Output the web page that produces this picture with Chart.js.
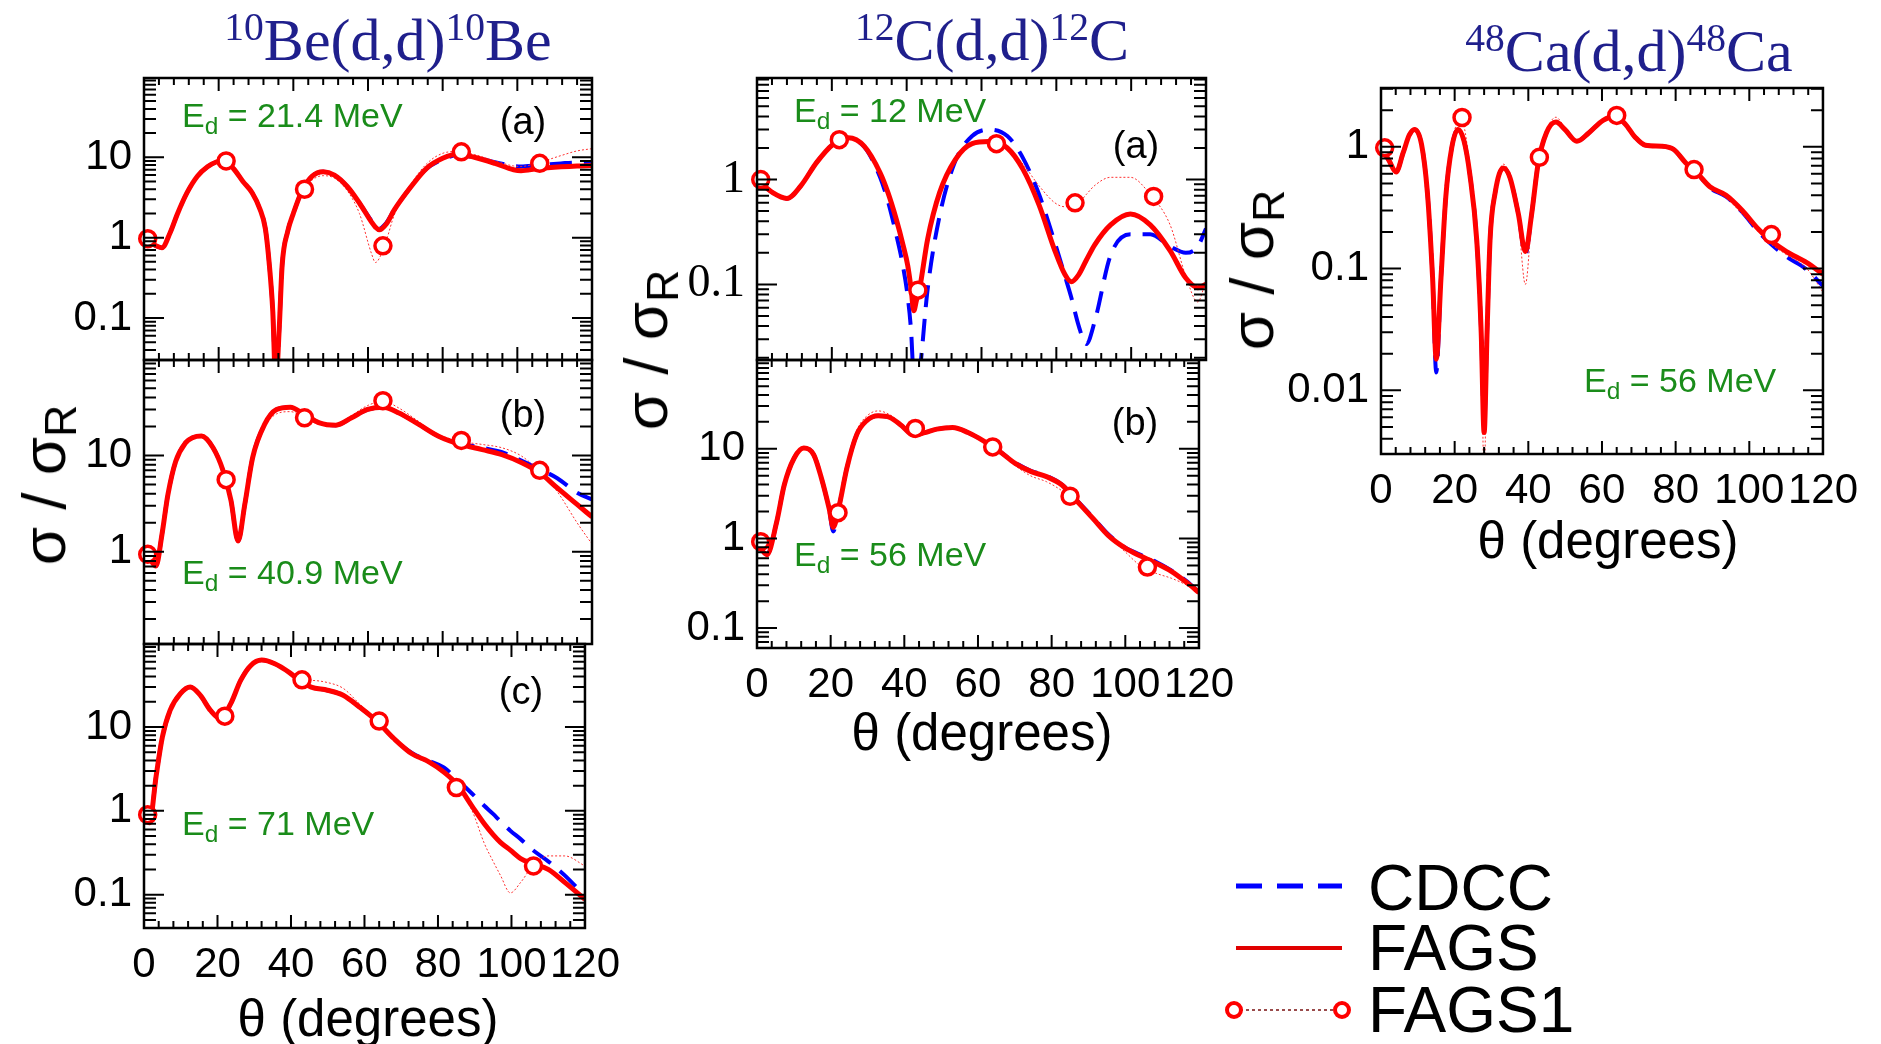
<!DOCTYPE html>
<html>
<head>
<meta charset="utf-8">
<script src="https://cdn.jsdelivr.net/npm/chart.js@4.4.1/dist/chart.umd.min.js"></script>
<style>
  html, body { margin: 0; padding: 0; background: #fff; }
  body { width: 1881px; height: 1044px; position: relative; overflow: hidden; font-family: "Liberation Sans", Arial, sans-serif; }
  canvas { position: absolute; }
  .t { position: absolute; white-space: nowrap; line-height: 1; transform: translate(-50%, -50%); z-index: 2; }
  .title { font-family: "Liberation Serif", serif; font-size: 60px; color: #1f1f8c; }
  .title sup { font-size: 0.66em; vertical-align: 0.5em; line-height: 0; }
  .ed { font-size: 34px; color: #1a8c1a; transform: translate(0, -50%); }
  .ed sub { font-size: 0.72em; vertical-align: -0.3em; line-height: 0; }
  .pl { font-size: 38px; color: #000; }
  .xt { font-size: 51px; color: #000; }
  .yt { font-size: 62px; color: #000; transform: translate(-50%, -50%) rotate(-90deg); }
  .yt sub { font-size: 0.72em; vertical-align: -0.25em; line-height: 0; }
  .lg { font-size: 64px; color: #000; transform: translate(0, -50%); }
  svg { position: absolute; z-index: 2; }
</style>
</head>
<body>

<div class="t title" style="left:388px;top:40px"><sup>10</sup>Be(d,d)<sup>10</sup>Be</div>
<div class="t title" style="left:992px;top:40px"><sup>12</sup>C(d,d)<sup>12</sup>C</div>
<div class="t title" style="left:1629px;top:51px"><sup>48</sup>Ca(d,d)<sup>48</sup>Ca</div>

<div class="t yt" style="left:44px;top:485px">σ / σ<sub>R</sub></div>
<div class="t yt" style="left:646px;top:350px">σ / σ<sub>R</sub></div>
<div class="t yt" style="left:1252px;top:270px">σ / σ<sub>R</sub></div>

<div class="t xt" style="left:368px;top:1018px">θ (degrees)</div>
<div class="t xt" style="left:982px;top:732px">θ (degrees)</div>
<div class="t xt" style="left:1608px;top:540px">θ (degrees)</div>

<div class="t ed" style="left:182px;top:115px">E<sub>d</sub> = 21.4 MeV</div>
<div class="t ed" style="left:182px;top:572px">E<sub>d</sub> = 40.9 MeV</div>
<div class="t ed" style="left:182px;top:823px">E<sub>d</sub> = 71 MeV</div>
<div class="t ed" style="left:794px;top:110px">E<sub>d</sub> = 12 MeV</div>
<div class="t ed" style="left:794px;top:554px">E<sub>d</sub> = 56 MeV</div>
<div class="t ed" style="left:1584px;top:380px">E<sub>d</sub> = 56 MeV</div>

<div class="t pl" style="left:523px;top:121px">(a)</div>
<div class="t pl" style="left:523px;top:414px">(b)</div>
<div class="t pl" style="left:521px;top:691px">(c)</div>
<div class="t pl" style="left:1136px;top:145px">(a)</div>
<div class="t pl" style="left:1135px;top:422px">(b)</div>

<svg style="left:1220px;top:860px" width="140" height="180">
  <line x1="16" y1="26" x2="122" y2="26" stroke="#0000ff" stroke-width="5" stroke-dasharray="26 15"/>
  <line x1="16" y1="88" x2="122" y2="88" stroke="#e00000" stroke-width="4"/>
  <line x1="20" y1="150" x2="116" y2="150" stroke="#7a1010" stroke-width="1.5" stroke-dasharray="3 3"/>
  <circle cx="14" cy="150" r="7" fill="#fff" stroke="#ff0000" stroke-width="4"/>
  <circle cx="122" cy="150" r="7" fill="#fff" stroke="#ff0000" stroke-width="4"/>
</svg>
<div class="t lg" style="left:1368px;top:888px">CDCC</div>
<div class="t lg" style="left:1368px;top:948px">FAGS</div>
<div class="t lg" style="left:1368px;top:1010px">FAGS1</div>

<script>
// angles of the FAGS1 open circles (same in every panel)
const markTheta = [1, 22, 43, 64, 85, 106];

// 10Be(d,d) 21.4 MeV
const beA_theta = [0, 2, 4.8, 7, 9, 11.5, 14.3, 17, 19.5, 21.5, 24, 26.5, 29, 31, 32.5, 33.5, 34.5, 35.3, 36.2, 37, 38.5, 40, 42.4, 45, 48, 51, 54.5, 57.7, 61, 62, 63, 65, 67, 71.5, 75.7, 80, 84, 88.5, 94, 99, 101, 105.4, 111.7, 116, 120];
const beA_fags = [1.0, 0.85, 0.75, 1.15, 2.0, 3.6, 5.8, 7.6, 8.8, 9.1, 7.2, 5.0, 3.6, 2.3, 1.3, 0.5, 0.12, 0.015, 0.07, 0.45, 1.2, 2.0, 3.9, 5.8, 6.6, 6.0, 4.3, 2.7, 1.55, 1.35, 1.25, 1.5, 2.2, 4.3, 7.3, 9.7, 11, 10, 8.4, 7.0, 6.8, 7.2, 7.6, 7.8, 7.9];
const beA_cdcc = [1.0, 0.85, 0.75, 1.15, 2.0, 3.6, 5.8, 7.6, 8.8, 9.1, 7.2, 5.0, 3.6, 2.3, 1.3, 0.5, 0.12, 0.015, 0.07, 0.45, 1.2, 2.0, 3.9, 5.8, 6.6, 6.0, 4.3, 2.7, 1.6, 1.4, 1.3, 1.55, 2.2, 4.3, 7.2, 9.4, 10.6, 10, 8.7, 7.8, 7.7, 8.0, 8.4, 8.6, 8.6];
const beA_fags1 = [1.0, 0.85, 0.76, 1.15, 2.0, 3.6, 5.8, 7.6, 8.8, 9.1, 7.2, 5.0, 3.6, 2.3, 1.3, 0.5, 0.12, 0.015, 0.07, 0.4, 1.1, 1.9, 3.7, 5.2, 5.9, 5.5, 3.8, 2.0, 0.62, 0.49, 0.55, 0.95, 1.9, 4.6, 8.3, 11.2, 11.8, 10.8, 9.0, 7.8, 7.7, 8.5, 10.5, 12, 12.8];
const beA_marks = [0.97, 9.0, 4.0, 0.79, 11.7, 8.4];

// 10Be(d,d) 40.9 MeV
const beB_theta = [0, 1.5, 3.2, 4.8, 6.4, 8.5, 11.1, 13, 15.4, 18.5, 21.2, 23.3, 25.2, 27, 29.1, 32.3, 35.5, 39.2, 42.9, 47, 51.4, 55.6, 59.9, 64.1, 68.3, 73.6, 78.9, 84.8, 90.6, 95.9, 101.2, 106, 110.7, 116, 120];
const beB_fags = [1.0, 0.85, 0.71, 1.5, 3.9, 8.7, 13.5, 15.3, 15.9, 12, 6.9, 3.4, 1.29, 3.1, 9.5, 21, 30, 31.7, 26.7, 21.8, 20.6, 24.6, 30, 31.7, 27.6, 21, 15.8, 13, 11.5, 10.2, 8.4, 6.6, 4.6, 3.1, 2.3];
const beB_cdcc = [1.0, 0.85, 0.71, 1.5, 3.9, 8.7, 13.5, 15.3, 15.9, 12, 6.9, 3.4, 1.29, 3.1, 9.5, 21, 30, 31.7, 26.7, 21.8, 20.6, 24.6, 30, 31.7, 27.6, 21, 15.8, 13.3, 12, 10.8, 8.8, 7.2, 5.8, 4.1, 3.5];
const beB_fags1 = [1.0, 0.85, 0.72, 1.5, 3.9, 8.7, 13.5, 15.0, 15.9, 12, 6.9, 3.4, 1.3, 3.1, 9.2, 19.5, 27, 28.5, 25, 21, 20.8, 26, 33, 36.5, 31, 22.5, 16.5, 14, 13, 12, 9.8, 6.8, 4.2, 2.0, 1.2];
const beB_marks = [0.94, 5.6, 24.6, 37, 14.3, 7.0];

// 10Be(d,d) 71 MeV
const beC_theta = [0, 1.5, 3.3, 5, 7.1, 9.9, 12.6, 15.3, 18.1, 20.8, 23.6, 26.3, 29, 32, 35.6, 39.5, 42.7, 45.5, 49.9, 54.2, 58.6, 63.6, 68, 72.9, 77.3, 81.6, 85.5, 89.3, 92.6, 95, 97, 99.7, 102.5, 105.8, 110, 114.5, 120];
const beC_fags = [0.88, 0.72, 2.6, 7.6, 15.8, 25, 30, 24, 15.8, 12.6, 19, 36, 54, 63, 57, 45, 35, 30, 27.5, 24, 17.4, 11.5, 7.3, 4.8, 3.9, 2.9, 2.0, 1.13, 0.7, 0.52, 0.42, 0.34, 0.27, 0.235, 0.2, 0.14, 0.088];
const beC_cdcc = [0.88, 0.72, 2.6, 7.6, 15.8, 25, 30, 24, 15.8, 12.6, 19, 36, 54, 63, 57, 45, 35, 30, 27.5, 24, 17.4, 11.5, 7.3, 4.9, 4.0, 3.3, 2.3, 1.6, 1.15, 0.92, 0.75, 0.58, 0.46, 0.34, 0.25, 0.17, 0.096];
const beC_fags1 = [0.88, 0.72, 2.6, 7.6, 15.8, 25, 30, 24, 15.8, 12.6, 19, 36, 54, 63, 57, 45, 36, 36, 34, 29, 19, 11.8, 7.0, 4.6, 3.7, 2.8, 1.9, 1.0, 0.41, 0.25, 0.17, 0.105, 0.14, 0.22, 0.29, 0.29, 0.22];
const beC_marks = [0.9, 13.5, 36.6, 11.8, 1.9, 0.22];

// 12C(d,d) 12 MeV
const cA_theta = [0, 4.2, 8, 11.7, 15.9, 20.2, 24.4, 28.7, 32.9, 35, 37.2, 39, 40.3, 41.2, 41.9, 42.6, 43.5, 45.6, 48.8, 53, 57.5, 62, 66.9, 71.1, 75.4, 79.6, 82.3, 84, 86, 88, 90.3, 94.5, 99.8, 105.1, 110.4, 114.6, 117.8, 120];
const cA_fags = [1.0, 0.75, 0.66, 0.87, 1.45, 2.15, 2.5, 2.07, 1.16, 0.75, 0.42, 0.24, 0.15, 0.09, 0.056, 0.07, 0.093, 0.27, 0.75, 1.55, 2.2, 2.3, 2.0, 1.25, 0.57, 0.21, 0.124, 0.106, 0.124, 0.17, 0.24, 0.37, 0.47, 0.37, 0.21, 0.115, 0.093, 0.1];
const cA_cdcc = [1.0, 0.75, 0.66, 0.87, 1.45, 2.15, 2.4, 2.05, 1.05, 0.62, 0.3, 0.15, 0.075, 0.035, 0.012, 0.01, 0.015, 0.09, 0.45, 1.5, 2.6, 3.0, 2.6, 1.6, 0.72, 0.25, 0.12, 0.075, 0.04, 0.027, 0.045, 0.19, 0.3, 0.3, 0.23, 0.2, 0.23, 0.34];
const cA_fags1 = [1.0, 0.75, 0.66, 0.87, 1.45, 2.2, 2.55, 2.1, 1.2, 0.78, 0.44, 0.25, 0.15, 0.1, 0.075, 0.08, 0.1, 0.28, 0.75, 1.55, 2.2, 2.3, 2.0, 1.4, 0.87, 0.6, 0.55, 0.56, 0.6, 0.72, 0.88, 1.05, 1.05, 0.72, 0.37, 0.12, 0.068, 0.11];
const cA_marks = [1.0, 2.4, 0.088, 2.2, 0.6, 0.69];

// 12C(d,d) 56 MeV
const cB_theta = [0, 2.7, 5.3, 7.4, 10.1, 12.7, 15.4, 17.5, 19.6, 20.7, 22.3, 24.4, 27.1, 29.7, 32.9, 36.1, 39.3, 42.5, 45.6, 48.8, 53.1, 57.3, 61.6, 65.8, 70.1, 74.3, 78.6, 82.8, 87.1, 91.3, 95.5, 99.8, 104, 108.3, 112.5, 116.8, 120];
const cB_fags = [0.9, 0.66, 1.5, 3.95, 7.9, 10.2, 8.6, 4.7, 2.15, 1.33, 2.3, 6.1, 14.5, 20.5, 23.4, 22.4, 18.1, 14.2, 15.2, 16.6, 17.3, 15.2, 12.2, 9.4, 6.9, 5.6, 4.9, 3.95, 2.55, 1.66, 1.07, 0.79, 0.64, 0.53, 0.43, 0.32, 0.25];
const cB_cdcc = [0.9, 0.66, 1.5, 3.95, 7.9, 10.2, 8.6, 4.7, 2.1, 1.2, 2.3, 6.1, 14.5, 20.5, 23.4, 22.4, 18.1, 14.2, 15.2, 16.6, 17.3, 15.2, 12.2, 9.4, 7.0, 5.7, 5.0, 4.0, 2.6, 1.7, 1.1, 0.8, 0.66, 0.55, 0.44, 0.33, 0.25];
const cB_fags1 = [0.9, 0.68, 1.5, 3.9, 7.9, 10.2, 8.6, 4.7, 2.2, 1.5, 2.3, 6.3, 16, 23, 26.5, 24, 19, 15.8, 16, 16.8, 17.3, 15, 12, 9.2, 6.5, 5.0, 4.3, 3.4, 2.4, 1.6, 1.05, 0.72, 0.5, 0.41, 0.36, 0.3, 0.25];
const cB_marks = [0.92, 1.94, 16.9, 10.5, 2.96, 0.48];

// 48Ca(d,d) 56 MeV
const ca_theta = [0, 2.2, 4.1, 6, 7.7, 9.1, 11, 12.6, 14, 15, 16.3, 17.6, 19.2, 20.9, 22.5, 24.1, 26, 27.2, 28, 28.8, 29.6, 31, 33.2, 35, 37.3, 39.2, 40.9, 42.7, 44.9, 47.5, 49.9, 53.2, 56.4, 60.3, 63.6, 66.3, 69, 71.8, 76.2, 79.5, 82.7, 86, 89.3, 93.7, 98.1, 102.5, 105.8, 110.1, 115.6, 120];
const ca_fags = [1.0, 0.77, 0.62, 0.89, 1.25, 1.39, 1.05, 0.42, 0.085, 0.018, 0.085, 0.39, 0.98, 1.39, 1.13, 0.6, 0.17, 0.03, 0.0045, 0.03, 0.17, 0.42, 0.67, 0.56, 0.28, 0.138, 0.28, 0.74, 1.3, 1.6, 1.39, 1.11, 1.3, 1.65, 1.77, 1.54, 1.2, 1.03, 1.01, 0.95, 0.74, 0.6, 0.47, 0.4, 0.3, 0.21, 0.17, 0.138, 0.112, 0.09];
const ca_cdcc = [1.0, 0.77, 0.62, 0.89, 1.25, 1.39, 1.05, 0.42, 0.085, 0.014, 0.085, 0.39, 0.98, 1.39, 1.13, 0.6, 0.17, 0.03, 0.005, 0.03, 0.17, 0.42, 0.67, 0.56, 0.28, 0.13, 0.28, 0.74, 1.3, 1.6, 1.39, 1.11, 1.3, 1.65, 1.77, 1.54, 1.2, 1.03, 1.01, 0.95, 0.74, 0.6, 0.46, 0.39, 0.29, 0.2, 0.16, 0.125, 0.098, 0.072];
const ca_fags1 = [1.0, 0.77, 0.62, 0.89, 1.25, 1.42, 1.05, 0.42, 0.085, 0.02, 0.085, 0.4, 1.05, 1.55, 1.45, 0.65, 0.17, 0.025, 0.002, 0.025, 0.17, 0.42, 0.72, 0.58, 0.25, 0.074, 0.25, 0.74, 1.35, 1.75, 1.45, 1.15, 1.3, 1.7, 1.82, 1.56, 1.2, 1.03, 1.0, 0.93, 0.72, 0.6, 0.46, 0.38, 0.28, 0.2, 0.16, 0.13, 0.1, 0.064];
const ca_marks = [0.98, 1.74, 0.82, 1.81, 0.65, 0.19];

const decades = [0.001, 0.01, 0.1, 1, 10, 100];

// frame with inward ticks on all four sides
const framePlugin = {
  id: 'frame',
  afterDatasetsDraw(chart) {
    const { ctx, chartArea: a, scales: { x, y } } = chart;
    ctx.save();
    ctx.strokeStyle = '#000';
    ctx.lineWidth = 2;
    ctx.beginPath();
    for (let t = 0; t <= 120; t += 4) {
      const px = x.getPixelForValue(t);
      const len = t % 20 === 0 ? 13 : 7;
      ctx.moveTo(px, a.top); ctx.lineTo(px, a.top + len);
      ctx.moveTo(px, a.bottom); ctx.lineTo(px, a.bottom - len);
    }
    const e0 = Math.floor(Math.log10(y.min)), e1 = Math.ceil(Math.log10(y.max));
    for (let e = e0; e <= e1; e++) {
      for (let m = 1; m <= 9; m++) {
        const v = m * Math.pow(10, e);
        if (v < y.min || v > y.max) continue;
        const py = y.getPixelForValue(v);
        const len = m === 1 ? 20 : 12;
        ctx.moveTo(a.left, py); ctx.lineTo(a.left + len, py);
        ctx.moveTo(a.right, py); ctx.lineTo(a.right - len, py);
      }
    }
    ctx.stroke();
    ctx.lineWidth = 2.5;
    ctx.strokeRect(a.left, a.top, a.right - a.left, a.bottom - a.top);
    ctx.restore();
  }
};

function series(theta, vals) {
  return theta.map((t, i) => ({ x: t, y: vals[i] }));
}

function panel(p) {
  const YW = 130, PT = 40, PR = 40, PB = 40, XH = 70;
  const w = YW + p.r - p.l + PR;
  const h = PT + p.b - p.t + (p.showX ? XH : PB);
  const cv = document.createElement('canvas');
  cv.width = w; cv.height = h;
  cv.style.left = (p.l - YW) + 'px';
  cv.style.top = (p.t - PT) + 'px';
  cv.style.width = w + 'px';
  cv.style.height = h + 'px';
  document.body.appendChild(cv);

  // first dataset is painted last (on top)
  new Chart(cv, {
    type: 'line',
    data: {
      datasets: [
        { label: 'FAGS1', data: series(markTheta, p.marks), showLine: false, clip: false,
          pointRadius: 8, pointHoverRadius: 8, pointBorderWidth: 3.5,
          pointBorderColor: '#ff0000', pointBackgroundColor: '#ffffff' },
        { label: 'FAGS', data: series(p.theta, p.fags), borderColor: '#ff0000', borderWidth: 5,
          pointRadius: 0, pointHoverRadius: 0, cubicInterpolationMode: 'monotone' },
        { label: 'FAGS1 curve', data: series(p.theta, p.fags1), borderColor: '#ff3030', borderWidth: 1,
          borderDash: [2, 2], pointRadius: 0, pointHoverRadius: 0, cubicInterpolationMode: 'monotone' },
        { label: 'CDCC', data: series(p.theta, p.cdcc), borderColor: '#0000ff', borderWidth: 4,
          borderDash: [22, 12], pointRadius: 0, pointHoverRadius: 0, cubicInterpolationMode: 'monotone' }
      ]
    },
    options: {
      responsive: false,
      animation: false,
      layout: { padding: { left: 0, top: PT, right: PR, bottom: p.showX ? 0 : PB } },
      plugins: { legend: { display: false }, tooltip: { enabled: false } },
      scales: {
        x: {
          type: 'linear', min: 0, max: 120, display: p.showX,
          grid: { display: false, drawTicks: false }, border: { display: false },
          ticks: { stepSize: 20, padding: 12, color: '#000', maxRotation: 0, autoSkip: false,
                   font: { family: 'Liberation Sans', size: 42 } },
          afterFit: s => { s.height = p.showX ? XH : 0; }
        },
        y: {
          type: 'logarithmic', min: p.yMin, max: p.yMax,
          grid: { display: false, drawTicks: false }, border: { display: false },
          ticks: { padding: 12, color: '#000', autoSkip: false,
                   font: { family: p.serifY ? 'Liberation Serif' : 'Liberation Sans', size: p.serifY ? 46 : 42 },
                   callback: v => String(v) },
          afterBuildTicks: s => {
            s.ticks = decades.filter(v => v >= p.yMin && v <= p.yMax).map(v => ({ value: v }));
          },
          afterFit: s => { s.width = YW; }
        }
      }
    },
    plugins: [framePlugin]
  });
}

panel({ l: 144, r: 592, t: 78, b: 360, showX: false, yMin: 0.03, yMax: 97,
        theta: beA_theta, fags: beA_fags, cdcc: beA_cdcc, fags1: beA_fags1, marks: beA_marks });
panel({ l: 144, r: 592, t: 360, b: 644, showX: false, yMin: 0.11, yMax: 98,
        theta: beB_theta, fags: beB_fags, cdcc: beB_cdcc, fags1: beB_fags1, marks: beB_marks });
panel({ l: 144, r: 592, t: 644, b: 928, showX: true, yMin: 0.04, yMax: 98,
        theta: beC_theta, fags: beC_fags, cdcc: beC_cdcc, fags1: beC_fags1, marks: beC_marks });
panel({ l: 757, r: 1206, t: 78, b: 360, showX: false, yMin: 0.019, yMax: 9.3, serifY: true,
        theta: cA_theta, fags: cA_fags, cdcc: cA_cdcc, fags1: cA_fags1, marks: cA_marks });
panel({ l: 757, r: 1206, t: 360, b: 648, showX: true, yMin: 0.06, yMax: 98,
        theta: cB_theta, fags: cB_fags, cdcc: cB_cdcc, fags1: cB_fags1, marks: cB_marks });
panel({ l: 1381, r: 1830, t: 88, b: 454, showX: true, yMin: 0.003, yMax: 3.04,
        theta: ca_theta, fags: ca_fags, cdcc: ca_cdcc, fags1: ca_fags1, marks: ca_marks });
</script>
</body>
</html>
